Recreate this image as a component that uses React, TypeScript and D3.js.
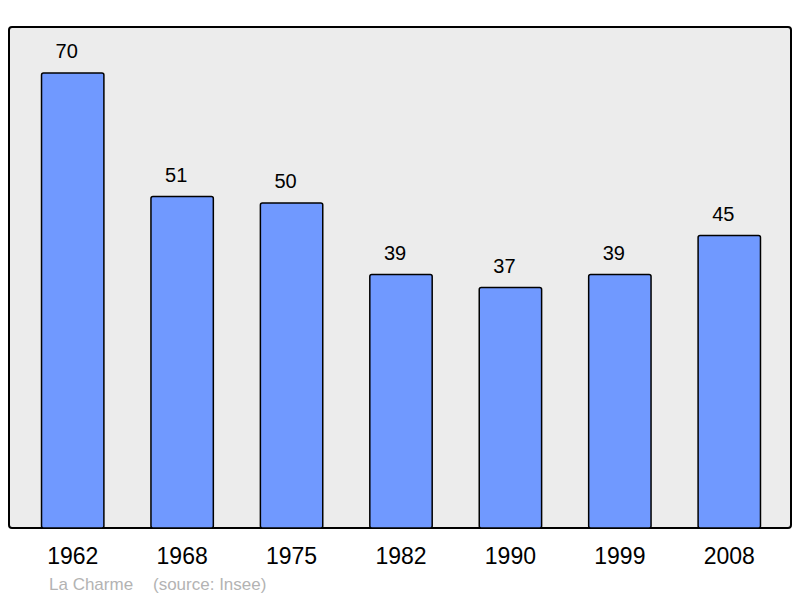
import React from 'react';
import * as d3 from 'd3';

const years = ['1962', '1968', '1975', '1982', '1990', '1999', '2008'];
const population = [70, 51, 50, 39, 37, 39, 45];
const placeName = 'La Charme';
const sourceNote = '(source: Insee)';

export default function App() {
  const width = 800;
  const height = 598;
  const panel = { left: 9, top: 27, right: 791, bottom: 528 };

  const x = d3.scaleBand<string>()
    .domain(years)
    .range([18, 784])
    .paddingInner(0.43)
    .paddingOuter(0.215);

  const y = d3.scaleLinear()
    .domain([0, 77])
    .range([panel.bottom, panel.top + 0.5]);

  const font = '"Liberation Sans", Arial, sans-serif';

  return (
    <svg width={width} height={height} style={{ position: 'absolute', left: 0, top: 0 }}>
      <rect
        x={panel.left}
        y={panel.top}
        width={panel.right - panel.left}
        height={panel.bottom - panel.top}
        rx={3}
        fill="#ececec"
        stroke="#000"
        strokeWidth={2}
      />
      {population.map((v, i) => {
        const yr = years[i];
        const bx = x(yr)!;
        const cx = bx + x.bandwidth() / 2;
        return (
          <g key={yr}>
            <rect
              x={bx}
              y={y(v)}
              width={x.bandwidth()}
              height={panel.bottom - y(v)}
              rx={2}
              fill="#7099ff"
              stroke="#000"
              strokeWidth={1.5}
            />
            <text x={cx - 6} y={y(v) - 15} textAnchor="middle" fontFamily={font} fontSize={20} fill="#000">
              {v}
            </text>
            <text x={cx} y={564} textAnchor="middle" fontFamily={font} fontSize={23} fill="#000">
              {yr}
            </text>
          </g>
        );
      })}
      <text x={49} y={590} fontFamily={font} fontSize={17} fill="#b3b3b3">{placeName}</text>
      <text x={153} y={590} fontFamily={font} fontSize={17} fill="#b3b3b3">{sourceNote}</text>
    </svg>
  );
}
